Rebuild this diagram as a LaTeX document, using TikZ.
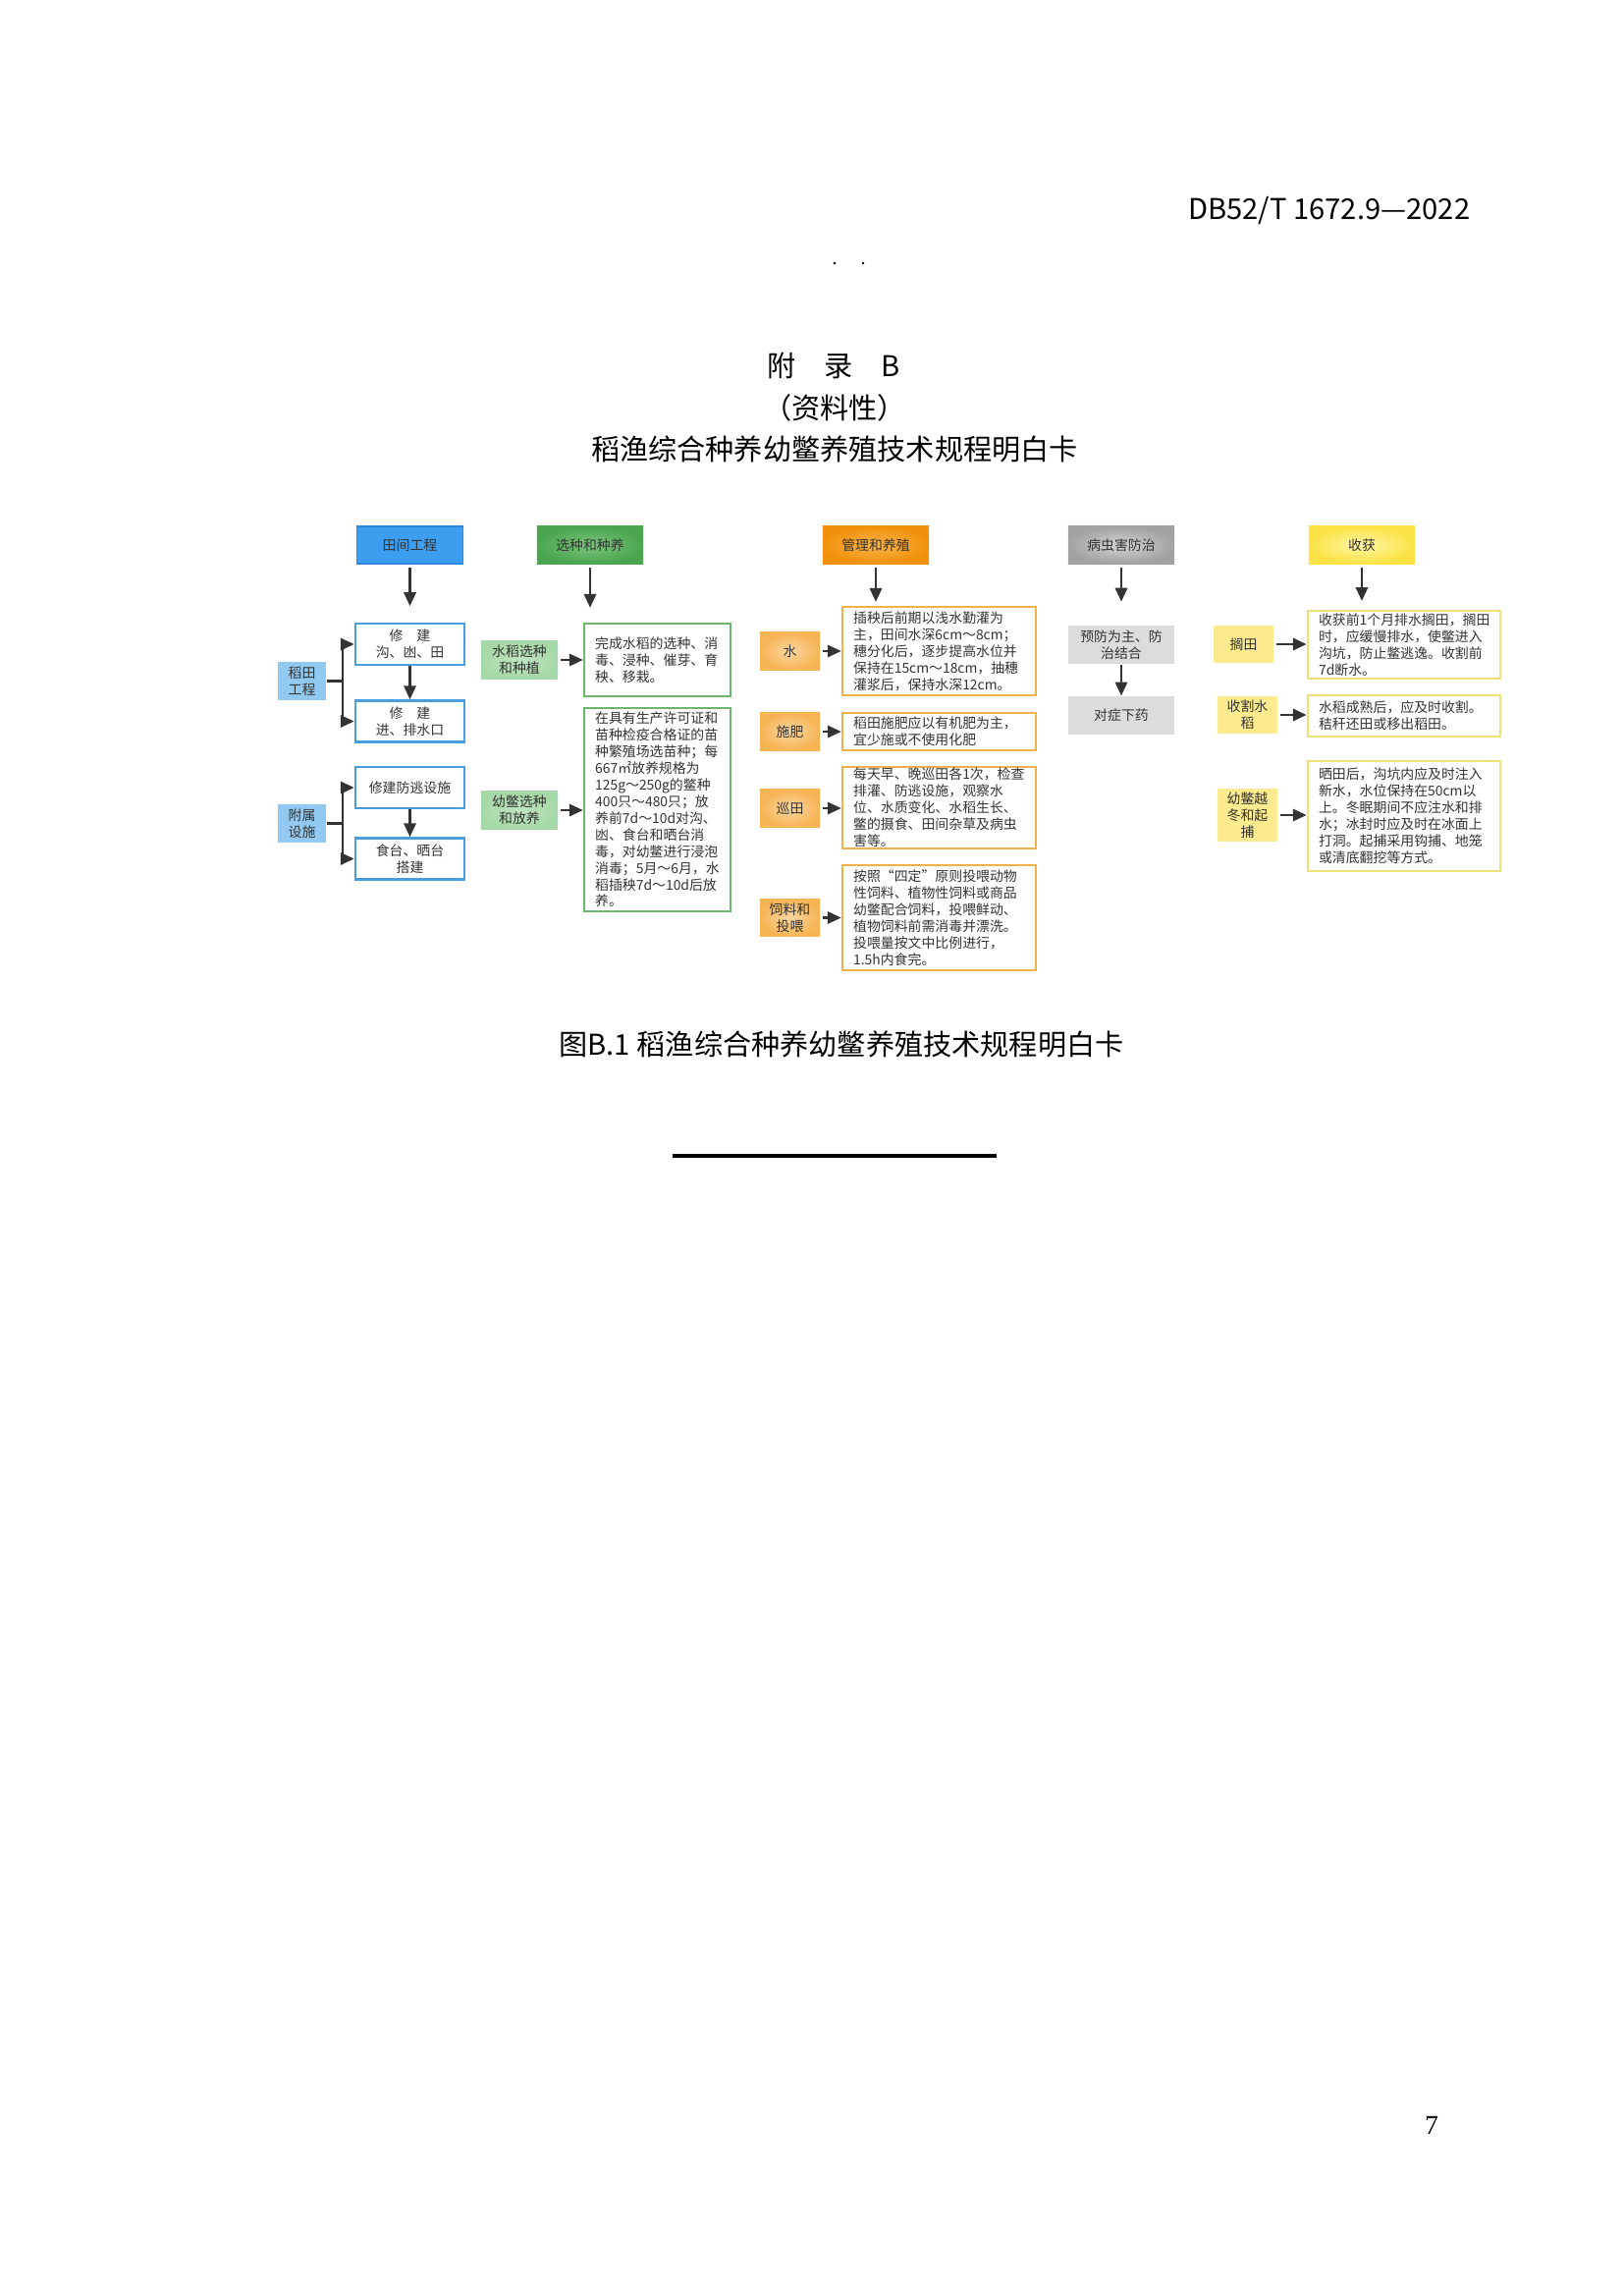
\documentclass[tikz,border=0pt]{standalone}
\usepackage{fontspec}
\setmainfont{Noto Sans CJK SC}
\newfontfamily\pagefont{Liberation Serif}
\usetikzlibrary{arrows.meta}

\definecolor{bluehd}{HTML}{3D9DF0}
\definecolor{bluedk}{HTML}{2C88DC}
\definecolor{bluelt}{HTML}{92C9F0}
\definecolor{blueln}{HTML}{4A9DDE}
\definecolor{greenhd}{HTML}{7CC67E}
\definecolor{greendk}{HTML}{4BA54F}
\definecolor{greenlt}{HTML}{A6D9A7}
\definecolor{greenln}{HTML}{6DB56F}
\definecolor{orangehd}{HTML}{F9B54A}
\definecolor{orangedk}{HTML}{F2900C}
\definecolor{orangelt}{HTML}{F6B454}
\definecolor{orangeln}{HTML}{EDB24A}
\definecolor{grayhd}{HTML}{D4D4D4}
\definecolor{graydk}{HTML}{A2A2A2}
\definecolor{graylt}{HTML}{DCDCDC}
\definecolor{yellowhd}{HTML}{FFF6A8}
\definecolor{yellowdk}{HTML}{FCE244}
\definecolor{yellowlt}{HTML}{FBEA8E}
\definecolor{yellowln}{HTML}{F0E07A}
\definecolor{inkgray}{HTML}{333333}

\tikzset{
  txt/.style={font=\fontsize{5}{6.1}\selectfont, text=inkgray},
  head/.style={txt, minimum width=38.9pt, minimum height=13.7pt, inner sep=0pt},
  tag/.style={txt, align=center, inner sep=0pt, minimum height=13.7pt},
  card/.style={txt, align=left, fill=white, line width=0.9pt, inner xsep=4pt, inner ysep=0pt},
  arr/.style={-{Triangle[length=5pt,width=4.4pt]}, line width=0.9pt, draw=inkgray},
  bluehead/.style={head, draw=bluedk, line width=0.4pt, fill=bluehd},
  greenhead/.style={head, inner color=greenhd, outer color=greendk},
  orangehead/.style={head, inner color=orangehd, outer color=orangedk},
  grayhead/.style={head, inner color=grayhd, outer color=graydk},
  yellowhead/.style={head, inner color=yellowhd, outer color=yellowdk},
  bluetag/.style={tag, fill=bluelt, minimum width=17.6pt, minimum height=14pt},
  greentag/.style={tag, inner color=greenlt!70!white, outer color=greenlt, minimum width=28.1pt},
  orangetag/.style={tag, inner color=orangelt!55!white, outer color=orangelt, minimum width=22pt},
  yellowtag/.style={tag, fill=yellowlt, minimum width=22pt},
  graybox/.style={tag, fill=graylt, minimum width=38.9pt, minimum height=14pt},
  bluecard/.style={card, draw=blueln, align=center, text width=32pt, minimum height=15.1pt},
  greencard/.style={card, draw=greenln, text width=45.6pt},
  orangecard/.style={card, draw=orangeln, text width=62.9pt},
  yellowcard/.style={card, draw=yellowln, text width=62.6pt}
}

\begin{document}
\begin{tikzpicture}[x=0.36pt, y=-0.36pt]
  \useasboundingbox (0,0) rectangle (1653,2338);
  \node[anchor=east, font=\fontsize{10.5}{12}\selectfont] (biaohao) at (1507,215) {DB52/T\ 1672.9—2022};
  \fill (850,268) circle [radius=0.5pt];
  \fill (879,268) circle [radius=0.5pt];
  \node[font=\fontsize{10.5}{12}\selectfont] (fulu) at (849,372) {附　录　B};
  \node[font=\fontsize{10.5}{12}\selectfont] (ziliao) at (850,415) {（资料性）};
  \node[font=\fontsize{10.5}{12}\selectfont] (biaoti) at (850,457) {稻渔综合种养幼鳖养殖技术规程明白卡};

  \node[bluehead] (hdTian) at (417.5,555) {田间工程};
  \node[greenhead] (hdXuan) at (601,555) {选种和种养};
  \node[orangehead] (hdGuan) at (892,555) {管理和养殖};
  \node[grayhead] (hdBing) at (1142,555) {病虫害防治};
  \node[yellowhead] (hdShou) at (1387,555) {收获};

  \node[bluecard] (tianA) at (417.5,656) {修　建\\沟、凼、田};
  \node[bluecard] (tianB) at (417.5,734.5) {修　建\\进、排水口};
  \node[bluecard] (tianC) at (417.5,802) {修建防逃设施};
  \node[bluecard] (tianD) at (417.5,874.5) {食台、晒台\\搭建};
  \node[bluetag] (tagTian) at (307.5,693.5) {稻田\\工程};
  \node[bluetag] (tagFu) at (307.5,838.5) {附属\\设施};
  \coordinate (brTian) at (349,693.5);
  \coordinate (brFu) at (349,838.5);

  \node[greentag] (tagDao) at (529,672) {水稻选种\\和种植};
  \node[greencard, minimum height=26.6pt] (xuanA) at (669.5,672)
    {完成水稻的选种、消\\毒、浸种、催芽、育\\秧、移栽。};
  \node[greentag] (tagBie) at (529,825) {幼鳖选种\\和放养};
  \node[greencard, minimum height=74.5pt] (xuanB) at (669.5,824.5)
    {在具有生产许可证和\\苗种检疫合格证的苗\\种繁殖场选苗种；每\\667㎡放养规格为\\125g～250g的鳖种\\400只～480只；放\\养前7d～10d对沟、\\凼、食台和晒台消\\毒，对幼鳖进行浸泡\\消毒；5月～6月，水\\稻插秧7d～10d后放\\养。};

  \node[orangetag] (tagShui) at (804.5,663) {水};
  \node[orangecard, minimum height=32.4pt] (guanA) at (956.5,663)
    {插秧后前期以浅水勤灌为\\主，田间水深6cm～8cm；\\穗分化后，逐步提高水位并\\保持在15cm～18cm，抽穗\\灌浆后，保持水深12cm。};
  \node[orangetag] (tagFei) at (804.5,745) {施肥};
  \node[orangecard, minimum height=13.7pt] (guanB) at (956.5,745)
    {稻田施肥应以有机肥为主，\\宜少施或不使用化肥};
  \node[orangetag] (tagXun) at (804.5,823) {巡田};
  \node[orangecard, minimum height=29.9pt] (guanC) at (956.5,822.5)
    {每天早、晚巡田各1次，检查\\排灌、防逃设施，观察水\\位、水质变化、水稻生长、\\鳖的摄食、田间杂草及病虫\\害等。};
  \node[orangetag] (tagSi) at (804.5,934.5) {饲料和\\投喂};
  \node[orangecard, minimum height=38.5pt] (guanD) at (956.5,934.5)
    {按照“四定”原则投喂动物\\性饲料、植物性饲料或商品\\幼鳖配合饲料，投喂鲜动、\\植物饲料前需消毒并漂洗。\\投喂量按文中比例进行，\\1.5h内食完。};

  \node[graybox] (bingA) at (1142,656.5) {预防为主、防\\治结合};
  \node[graybox] (bingB) at (1142,728.5) {对症下药};

  \node[yellowtag] (tagGe) at (1266.5,656) {搁田};
  \node[yellowcard, minimum height=24.8pt] (shouA) at (1430,656.5)
    {收获前1个月排水搁田，搁田\\时，应缓慢排水，使鳖进入\\沟坑，防止鳖逃逸。收割前\\7d断水。};
  \node[yellowtag] (tagGeDao) at (1270.5,728) {收割水\\稻};
  \node[yellowcard, minimum height=15.1pt] (shouB) at (1430,729)
    {水稻成熟后，应及时收割。\\秸秆还田或移出稻田。};
  \node[yellowtag, minimum height=19.4pt] (tagDong) at (1270.5,830) {幼鳖越\\冬和起\\捕};
  \node[yellowcard, minimum height=40.3pt] (shouC) at (1430,831)
    {晒田后，沟坑内应及时注入\\新水，水位保持在50cm以\\上。冬眠期间不应注水和排\\水；冰封时应及时在冰面上\\打洞。起捕采用钩捕、地笼\\或清底翻挖等方式。};

  \draw[arr, shorten <=1.4pt, shorten >=6pt] (hdTian) -- (tianA);
  \draw[arr, shorten <=1.4pt, shorten >=5.4pt] (hdXuan) -- (hdXuan |- xuanA.north);
  \draw[arr, shorten <=1.4pt, shorten >=1.4pt] (hdGuan) -- (hdGuan |- guanA.north);
  \draw[arr, shorten <=1.4pt, shorten >=8.6pt] (hdBing) -- (bingA);
  \draw[arr, shorten <=1.4pt, shorten >=3.2pt] (hdShou) -- (hdShou |- shouA.north);

  \draw[line width=0.9pt, inkgray] (tagTian) -- (brTian);
  \draw[arr] (brTian) |- (tianA);
  \draw[arr] (brTian) |- (tianB);
  \draw[arr] (tianA) -- (tianB);
  \draw[line width=0.9pt, inkgray] (tagFu) -- (brFu);
  \draw[arr] (brFu) |- (tianC);
  \draw[arr] (brFu) |- (tianD);
  \draw[arr] (tianC) -- (tianD);

  \draw[arr, shorten <=0.8pt] (tagDao) -- (tagDao -| xuanA.west);
  \draw[arr, shorten <=0.8pt] (tagBie) -- (tagBie -| xuanB.west);
  \draw[arr, shorten <=0.8pt] (tagShui) -- (tagShui -| guanA.west);
  \draw[arr, shorten <=0.8pt] (tagFei) -- (tagFei -| guanB.west);
  \draw[arr, shorten <=0.8pt] (tagXun) -- (tagXun -| guanC.west);
  \draw[arr, shorten <=0.8pt] (tagSi) -- (tagSi -| guanD.west);
  \draw[arr] (bingA) -- (bingB);
  \draw[arr, shorten <=0.8pt] (tagGe) -- (tagGe -| shouA.west);
  \draw[arr, shorten <=0.8pt] (tagGeDao) -- (tagGeDao -| shouB.west);
  \draw[arr, shorten <=0.8pt] (tagDong) -- (tagDong -| shouC.west);

  \node[font=\fontsize{10.5}{12}\selectfont] (tuming) at (857,1063) {图B.1\ 稻渔综合种养幼鳖养殖技术规程明白卡};
  \draw[line width=1.6pt] (685,1177) -- (1015,1177);
  \node[font=\pagefont\fontsize{10}{12}\selectfont] (yema) at (1458,2164) {7};
\end{tikzpicture}
\end{document}
